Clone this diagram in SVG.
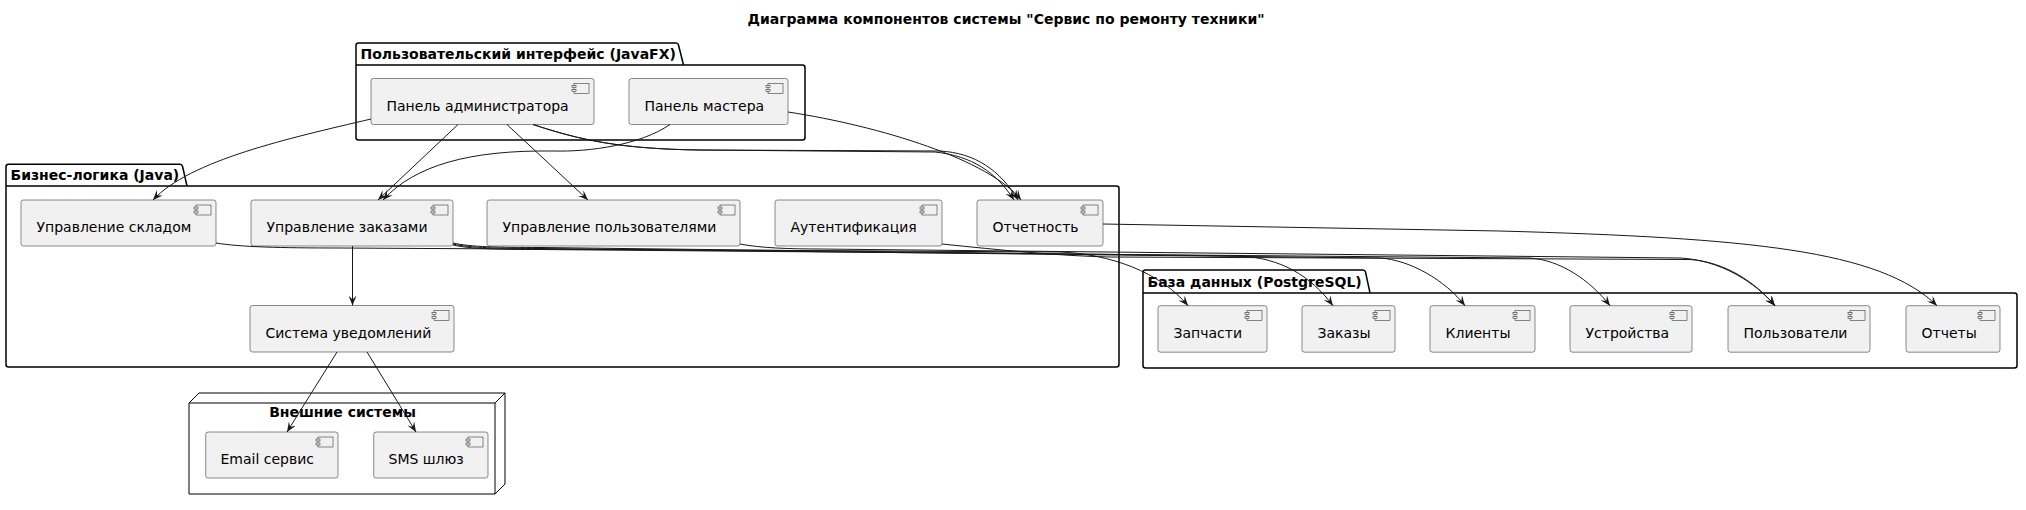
<svg xmlns="http://www.w3.org/2000/svg" width="2026" height="510" viewBox="0 0 2026 510">
<style>
.t{font-family:"DejaVu Sans","Liberation Sans",sans-serif;font-size:14px;fill:#000}
.b{font-weight:bold}
.pkg{fill:none;stroke:#000;stroke-width:1.5}
.cmp{fill:#F1F1F1;stroke:#181818;stroke-width:0.5}
.ic{fill:#F1F1F1;stroke:#181818;stroke-width:0.5}
.e{fill:none;stroke:#181818;stroke-width:1}
.nd{fill:none;stroke:#000;stroke-width:1}
</style>
<defs>
<marker id="ah" viewBox="0 0 10 8" refX="10" refY="4" markerWidth="10" markerHeight="8" markerUnits="userSpaceOnUse" orient="auto">
<path d="M0,0 L10,4 L0,8 L4,4 Z" fill="#181818"/>
</marker>
<g id="icon">
<rect x="-20" y="5" width="15" height="10" class="ic"/>
<rect x="-22" y="7" width="4" height="2" class="ic"/>
<rect x="-22" y="11" width="4" height="2" class="ic"/>
</g>
</defs>
<rect width="2026" height="510" fill="#fff"/>
<text class="t b" x="1006" y="24" text-anchor="middle">Диаграмма компонентов системы "Сервис по ремонту техники"</text>

<g id="pkg-ui">
<path class="pkg" d="M356,65 L356,45.5 Q356,43 358.5,43 L676,43 Q678,43 678.5,45 L683.5,65 L802.5,65 Q805,65 805,67.5 L805,137.5 Q805,140 802.5,140 L358.5,140 Q356,140 356,137.5 Z M356,65 L683.5,65"/>
<text class="t b" x="360.5" y="58.5">Пользовательский интерфейс (JavaFX)</text>
</g>
<g id="pkg-business">
<path class="pkg" d="M6,186 L6,166.8 Q6,164.3 8.5,164.3 L180,164.3 Q182,164.3 182.5,166.3 L187,186 L1116.5,186 Q1119,186 1119,188.5 L1119,364.5 Q1119,367 1116.5,367 L8.5,367 Q6,367 6,364.5 Z M6,186 L187,186"/>
<text class="t b" x="10.5" y="179.5">Бизнес-логика (Java)</text>
</g>
<g id="pkg-db">
<path class="pkg" d="M1143,293 L1143,272.5 Q1143,270 1145.5,270 L1363,270 Q1365,270 1365.5,272 L1370,293 L2014.5,293 Q2017,293 2017,295.5 L2017,365.5 Q2017,368 2014.5,368 L1145.5,368 Q1143,368 1143,365.5 Z M1143,293 L1370,293"/>
<text class="t b" x="1147.5" y="287">База данных (PostgreSQL)</text>
</g>
<g id="node-external">
<path class="nd" d="M189,403 L199,393 L505,393 L505,484 L495,494 L189,494 Z M189,403 L495,403 L505,393 M495,403 L495,494"/>
<text class="t b" x="342.5" y="417" text-anchor="middle">Внешние системы</text>
</g>

<g id="admin-panel"><rect class="cmp" x="371" y="78.5" width="223" height="46" rx="2.5"/><use href="#icon" x="594" y="78.5"/><text class="t" x="386.5" y="110.5">Панель администратора</text></g>
<g id="master-panel"><rect class="cmp" x="629" y="78.5" width="159" height="46" rx="2.5"/><use href="#icon" x="788" y="78.5"/><text class="t" x="644.5" y="110.5">Панель мастера</text></g>

<g id="warehouse"><rect class="cmp" x="21" y="200" width="195" height="46" rx="2.5"/><use href="#icon" x="216" y="200"/><text class="t" x="36.5" y="232">Управление складом</text></g>
<g id="orders-mgmt"><rect class="cmp" x="251" y="200" width="202" height="46" rx="2.5"/><use href="#icon" x="453" y="200"/><text class="t" x="266.5" y="232">Управление заказами</text></g>
<g id="users-mgmt"><rect class="cmp" x="487" y="200" width="253" height="46" rx="2.5"/><use href="#icon" x="740" y="200"/><text class="t" x="502.5" y="232">Управление пользователями</text></g>
<g id="auth"><rect class="cmp" x="775" y="200" width="167" height="46" rx="2.5"/><use href="#icon" x="942" y="200"/><text class="t" x="790.5" y="232">Аутентификация</text></g>
<g id="reporting"><rect class="cmp" x="977" y="200" width="126" height="46" rx="2.5"/><use href="#icon" x="1103" y="200"/><text class="t" x="992.5" y="232">Отчетность</text></g>
<g id="notifications"><rect class="cmp" x="250" y="305.5" width="204" height="46.5" rx="2.5"/><use href="#icon" x="454" y="305.5"/><text class="t" x="265.5" y="337.5">Система уведомлений</text></g>

<g id="db-parts"><rect class="cmp" x="1158" y="305.7" width="109" height="46.5" rx="2.5"/><use href="#icon" x="1267" y="305.7"/><text class="t" x="1173.5" y="338">Запчасти</text></g>
<g id="db-orders"><rect class="cmp" x="1302" y="305.7" width="93" height="46.5" rx="2.5"/><use href="#icon" x="1395" y="305.7"/><text class="t" x="1317.5" y="338">Заказы</text></g>
<g id="db-clients"><rect class="cmp" x="1430" y="305.7" width="105" height="46.5" rx="2.5"/><use href="#icon" x="1535" y="305.7"/><text class="t" x="1445.5" y="338">Клиенты</text></g>
<g id="db-devices"><rect class="cmp" x="1570" y="305.7" width="122" height="46.5" rx="2.5"/><use href="#icon" x="1692" y="305.7"/><text class="t" x="1585.5" y="338">Устройства</text></g>
<g id="db-users"><rect class="cmp" x="1728" y="305.7" width="142" height="46.5" rx="2.5"/><use href="#icon" x="1870" y="305.7"/><text class="t" x="1743.5" y="338">Пользователи</text></g>
<g id="db-reports"><rect class="cmp" x="1906" y="305.7" width="94" height="46.5" rx="2.5"/><use href="#icon" x="2000" y="305.7"/><text class="t" x="1921.5" y="338">Отчеты</text></g>

<g id="email"><rect class="cmp" x="205.7" y="432" width="132.3" height="46" rx="2.5"/><use href="#icon" x="338" y="432"/><text class="t" x="220.5" y="464.3">Email сервис</text></g>
<g id="sms"><rect class="cmp" x="373.7" y="432" width="114.3" height="46" rx="2.5"/><use href="#icon" x="488" y="432"/><text class="t" x="388.5" y="464.3">SMS шлюз</text></g>

<g id="connectors">
<path class="e" marker-end="url(#ah)" d="M371,119 C290,138 190,160 153,200"/>
<path class="e" marker-end="url(#ah)" d="M458,124.5 L378,200"/>
<path class="e" marker-end="url(#ah)" d="M507,124.5 L588,200"/>
<path class="e" marker-end="url(#ah)" d="M533,124.5 C580,140 620,149 700,150 L940,151 C975,153 1000,170 1018,200"/>
<path class="e" marker-end="url(#ah)" d="M533,124.5 C580,140 620,149 700,150 L935,152 C972,156 996,172 1014,200"/>
<path class="e" marker-end="url(#ah)" d="M788,112 C880,126 990,160 1021,200"/>
<path class="e" marker-end="url(#ah)" d="M670,124.5 C640,145 590,152 553,151 C470,150 415,165 383,200"/>
<path class="e" marker-end="url(#ah)" d="M352.5,246 L352.5,305.5"/>
<path class="e" marker-end="url(#ah)" d="M337,352 L287,432"/>
<path class="e" marker-end="url(#ah)" d="M367,352 L416,432"/>
<path class="e" marker-end="url(#ah)" d="M216,243 C240,247 280,248 340,248 L1060,252 C1110,254 1160,272 1188,305.7"/>
<path class="e" marker-end="url(#ah)" d="M453,243 C470,247 500,247.5 540,247.5 L1240,256 C1280,258 1310,275 1333,305.7"/>
<path class="e" marker-end="url(#ah)" d="M453,244 C470,248 500,248.5 540,248.5 L1380,258 C1410,260 1445,280 1465,305.7"/>
<path class="e" marker-end="url(#ah)" d="M453,245 C470,249 500,249.5 540,249.5 L1530,258 C1560,260 1590,280 1610,305.7"/>
<path class="e" marker-end="url(#ah)" d="M740,244 C760,248 790,249 820,249 L1680,258 C1720,260 1755,282 1775,305.7"/>
<path class="e" marker-end="url(#ah)" d="M942,244 C1000,250 1060,256 1110,257 L1690,259.5 C1725,262 1755,282 1775,305.7"/>
<path class="e" marker-end="url(#ah)" d="M1103,224 L1500,231 C1750,238 1880,250 1937,305.7"/>
</g>
</svg>
